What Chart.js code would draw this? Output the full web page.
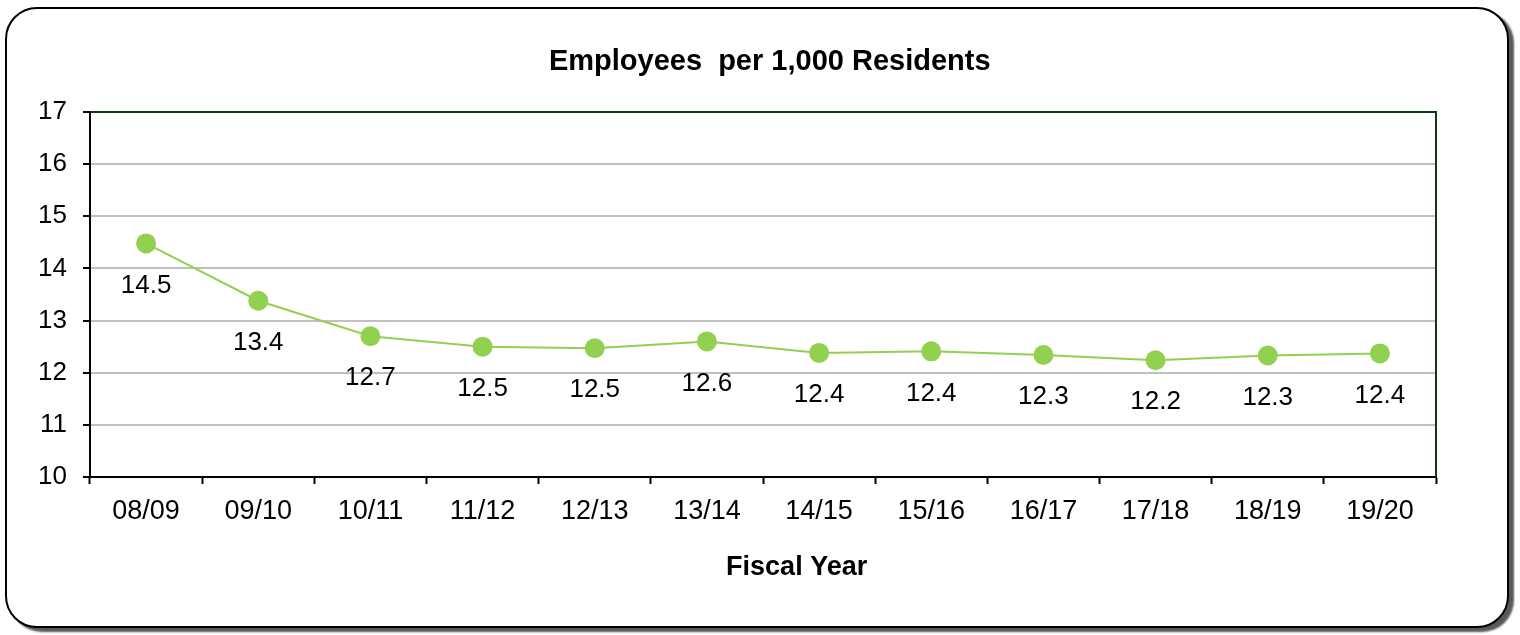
<!DOCTYPE html>
<html>
<head>
<meta charset="utf-8">
<script src="https://cdn.jsdelivr.net/npm/chart.js@4.4.0/dist/chart.umd.min.js"></script>
<style>
  html, body { margin: 0; padding: 0; background: #fff; }
  #wrap { position: relative; width: 1520px; height: 635px; overflow: hidden; }
  #frame {
    position: absolute; left: 5px; top: 7px; width: 1500px; height: 617px;
    border: 2.5px solid #000; border-radius: 32px;
    box-shadow: 5px 4px 2px rgba(0, 0, 0, 0.65);
    background: #fff;
  }
  #chart { position: absolute; left: 0; top: 0; }
</style>
</head>
<body>
<div id="wrap">
  <div id="frame"></div>
  <canvas id="chart" width="1520" height="635"></canvas>
</div>
<script>
// data
const fiscalYears = ['08/09', '09/10', '10/11', '11/12', '12/13', '13/14', '14/15', '15/16', '16/17', '17/18', '18/19', '19/20'];
const employeesPer1000 = [14.48, 13.38, 12.70, 12.50, 12.47, 12.60, 12.38, 12.41, 12.34, 12.24, 12.33, 12.37];
const yTicks = [10, 11, 12, 13, 14, 15, 16, 17];
const chartTitle = 'Employees  per 1,000 Residents';
const xTitle = 'Fiscal Year';

const FONT = '"Liberation Sans", Arial, sans-serif';
const GREEN = '#92d050';

// value labels under each point, titles, dark green top/right plot border
const extras = {
    id: 'extras',
    beforeDatasetsDraw(chart) {
        const {ctx, chartArea} = chart;
        ctx.save();
        ctx.strokeStyle = '#0b3d0b';
        ctx.lineWidth = 2;
        ctx.beginPath();
        ctx.moveTo(chartArea.left, chartArea.top);
        ctx.lineTo(chartArea.right, chartArea.top);
        ctx.lineTo(chartArea.right, chartArea.bottom);
        ctx.stroke();
        ctx.restore();
    },
    afterDatasetsDraw(chart) {
        const {ctx, chartArea} = chart;
        const meta = chart.getDatasetMeta(0);
        const w = chartArea.right - chartArea.left;
        ctx.save();
        ctx.fillStyle = '#000';
        ctx.textAlign = 'center';
        ctx.textBaseline = 'middle';
        ctx.font = '26px ' + FONT;
        meta.data.forEach((pt, i) => {
            ctx.fillText(employeesPer1000[i].toFixed(1), pt.x, pt.y + 42);
        });
        ctx.font = 'bold 29px ' + FONT;
        ctx.fillText(chartTitle, chartArea.left + w * 0.505, chartArea.top - 50);
        ctx.font = 'bold 27px ' + FONT;
        ctx.fillText(xTitle, chartArea.left + w * 0.525, chartArea.bottom + 91);
        ctx.restore();
    }
};

new Chart(document.getElementById('chart'), {
    type: 'line',
    data: {
        labels: fiscalYears,
        datasets: [{
            data: employeesPer1000,
            borderColor: GREEN,
            borderWidth: 2,
            backgroundColor: GREEN,
            pointBackgroundColor: GREEN,
            pointBorderWidth: 0,
            pointRadius: 10,
            tension: 0
        }]
    },
    options: {
        responsive: false,
        animation: false,
        layout: {padding: {left: 0, right: 84, top: 112, bottom: 0}},
        plugins: {
            legend: {display: false},
            tooltip: {enabled: false},
            title: {display: false}
        },
        scales: {
            x: {
                offset: true,
                grid: {
                    display: true,
                    offset: true,
                    drawOnChartArea: false,
                    tickColor: '#000',
                    tickLength: 7,
                    tickWidth: 2
                },
                border: {display: true, color: '#000', width: 2},
                ticks: {color: '#000', font: {family: FONT, size: 27}, padding: 11, maxRotation: 0},
                afterFit: (scale) => { scale.height = 158; }
            },
            y: {
                min: 10,
                max: 17,
                afterBuildTicks: (scale) => { scale.ticks = yTicks.map(v => ({value: v})); },
                grid: {
                    color: '#c0c0c0',
                    lineWidth: 2,
                    tickColor: '#000',
                    tickLength: 7,
                    tickWidth: 2
                },
                border: {display: true, color: '#000', width: 2},
                ticks: {color: '#000', font: {family: FONT, size: 26}, padding: 16},
                afterFit: (scale) => { scale.width = 90; }
            }
        }
    },
    plugins: [extras]
});
</script>
</body>
</html>
